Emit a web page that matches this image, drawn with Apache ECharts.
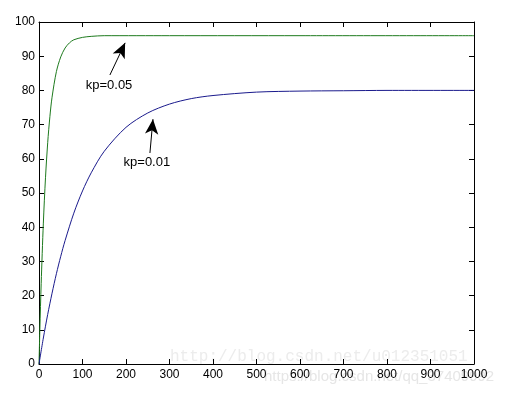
<!DOCTYPE html>
<html>
<head>
<meta charset="utf-8">
<script src="https://cdn.jsdelivr.net/npm/echarts@6/dist/echarts.min.js"></script>
<style>
html,body{margin:0;padding:0;background:#fff;}
#main{width:515px;height:399px;}
</style>
</head>
<body>
<div id="main"></div>
<script>
// kp=0.05 响应曲线
var kp05 = [
    [0, 0], [2, 10.2], [5, 23.5], [10, 41.2], [15, 54.6], [20, 64.7], [25, 72.3],
    [30, 78.0], [40, 85.5], [50, 89.8], [60, 92.4], [70, 93.9], [80, 94.8],
    [100, 95.5], [120, 95.8], [150, 96.0], [300, 96.0], [600, 96.0], [1000, 96.0]
];
// kp=0.01 响应曲线
var kp01 = [
    [0, 0], [10, 7.6], [20, 14.5], [30, 20.7], [40, 26.4], [50, 31.5], [60, 36.1],
    [80, 44.1], [100, 50.6], [120, 55.9], [150, 62.2], [200, 69.2], [250, 73.4],
    [300, 76.0], [350, 77.6], [400, 78.5], [500, 79.5], [600, 79.8], [700, 79.9],
    [800, 80.0], [1000, 80.0]
];
// 标注: [文字位置, 箭尾, 箭头]
var note05 = { text: 'kp=0.05', at: [161, 81.6], from: [163, 84.5], to: [198, 93.9] };
var note01 = { text: 'kp=0.01', at: [248, 59], from: [255, 61.7], to: [262, 71.6] };

var font = 'Liberation Sans';
var myChart = echarts.init(document.getElementById('main'));

function sideAxis(pos, isX) {
    return {
        type: 'value', position: pos, min: 0, max: isX ? 1000 : 100, interval: isX ? 100 : 10,
        axisLine: { show: true, onZero: false, lineStyle: { color: '#000', width: 1 } },
        axisTick: { show: true, inside: true, length: 5, lineStyle: { color: '#000' } },
        axisLabel: { show: false },
        splitLine: { show: false }
    };
}

var xMain = sideAxis('bottom', true);
xMain.axisLabel = { show: true, color: '#000', fontFamily: font, fontSize: 12, margin: 5,
    formatter: function (v) { return String(v); } };
var yMain = sideAxis('left', false);
yMain.axisLabel = { show: true, color: '#000', fontFamily: font, fontSize: 12, margin: 4 };

function noteSeries(n) {
    return {
        type: 'line', data: [], xAxisIndex: 0, yAxisIndex: 0, silent: true,
        markLine: {
            silent: true, symbol: ['none', 'arrow'], symbolSize: [10, 15],
            lineStyle: { color: '#000', width: 1, type: 'solid' },
            label: { show: false },
            data: [[{ coord: n.from }, { coord: n.to }]]
        },
        markPoint: {
            silent: true, symbolSize: 0,
            label: { show: true, formatter: n.text, color: '#000', fontFamily: font, fontSize: 13, position: 'inside' },
            data: [{ coord: n.at }]
        }
    };
}

myChart.setOption({
    animation: false,
    backgroundColor: '#fff',
    grid: { left: 39, top: 22, right: 41, bottom: 35 },
    xAxis: [xMain, sideAxis('top', true)],
    yAxis: [yMain, sideAxis('right', false)],
    graphic: [
        { type: 'text', left: 170, top: 349, silent: true,
          style: { text: 'http://blog.csdn.net/u012351051', font: '16px "Liberation Mono"', fill: '#ececec' } },
        { type: 'text', left: 264, top: 369, silent: true,
          style: { text: 'https://blog.csdn.net/qq_37409992', font: '15px "Liberation Sans"', fill: '#e6e6e6' } }
    ],
    series: [
        { type: 'line', data: kp05, showSymbol: false, smooth: 0.3, lineStyle: { color: '#1e7a1e', width: 1 }, itemStyle: { color: '#1e7a1e' } },
        { type: 'line', data: kp01, showSymbol: false, smooth: 0.3, lineStyle: { color: '#1a1a8c', width: 1 }, itemStyle: { color: '#1a1a8c' } },
        noteSeries(note05),
        noteSeries(note01)
    ]
});
</script>
</body>
</html>
